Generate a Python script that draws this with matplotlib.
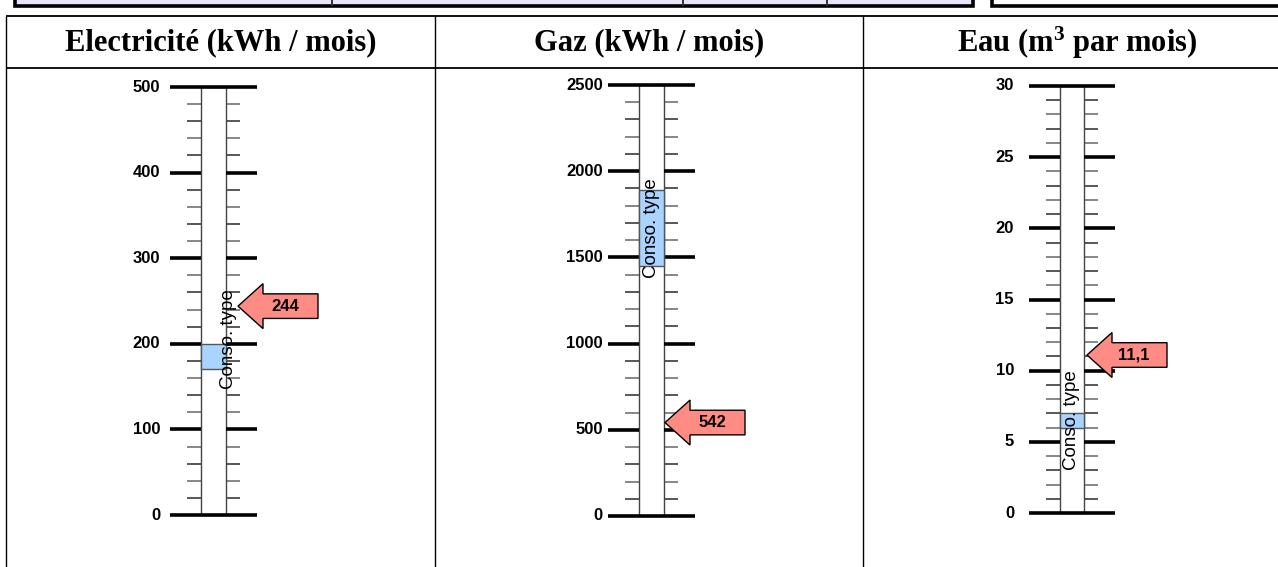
import matplotlib
matplotlib.use("Agg")
import matplotlib.pyplot as plt
from matplotlib.patches import Rectangle, Polygon

plt.rcParams["mathtext.fontset"] = "custom"
plt.rcParams["mathtext.rm"] = "Liberation Serif:bold"
plt.rcParams["mathtext.bf"] = "Liberation Serif:bold"
plt.rcParams["mathtext.it"] = "Liberation Serif:bold"

# ---------------- data ----------------
titles = ["Electricité (kWh / mois)", "Gaz (kWh / mois)", r"Eau (m$^{\mathrm{3}}$ par mois)"]
scale_max = [500, 2500, 30]
major_step = [100, 500, 5]
minor_step = [20, 100, 1]
conso_low = [170, 1450, 6]
conso_high = [200, 1890, 7]
actual_values = [244, 542, 11.1]
actual_labels = ["244", "542", "11,1"]
conso_text = "Conso. type"

# ---------------- layout (pixels) ----------------
W, H = 1278, 567
fig = plt.figure(figsize=(W / 100, H / 100), dpi=100)
bg = fig.add_axes([0, 0, 1, 1])
bg.set_xlim(0, W)
bg.set_ylim(H, 0)
bg.axis("off")

# top strip (cut-off table above)
bg.add_patch(Rectangle((15, -6), 958, 11.5, facecolor="#E6E6F8", edgecolor="black", lw=2.6))
for xd in [332, 683, 827]:
    bg.plot([xd, xd], [-6, 5], color="#333333", lw=1.4)
bg.add_patch(Rectangle((992, -6), 320, 11.5, facecolor="white", edgecolor="black", lw=2.6))

# table grid
for yl in [16, 68]:
    bg.plot([6, W], [yl, yl], color="black", lw=1.3, solid_capstyle="butt")
for xl in [6, 435, 863]:
    bg.plot([xl, xl], [16, H], color="black", lw=1.0, solid_capstyle="butt")

panel_left = [6, 435, 863]
panel_right = [435, 863, W]
header_cx = [221, 649, 1077]
for t, cx in zip(titles, header_cx):
    bg.text(cx, 43, t, ha="center", va="center", fontsize=22, fontweight="bold",
            family="Liberation Serif", color="black")

# gauge geometry per panel
y_zero = [515, 516, 513]
y_top = [87, 85, 86]
tube_l = [201, 639, 1060]
tube_r = [226, 664, 1084]
label_right = [160, 603, 1014]
arrow_shift = [12, 1, 3]
text_dx = [15, 0, 0]
text_center_val = [206, None, None]

for i in range(3):
    x0, x1 = panel_left[i], panel_right[i]
    pb = 1 - y_zero[i] / H
    pt = 1 - y_top[i] / H
    ax = fig.add_axes([x0 / W, pb, (x1 - x0) / W, pt - pb])
    ax.set_xlim(x0, x1)
    vmax = scale_max[i]
    ax.set_ylim(0, vmax)
    ax.axis("off")
    px_per_unit = (y_zero[i] - y_top[i]) / vmax
    tl, tr = tube_l[i], tube_r[i]

    # minor ticks
    nmin = int(round(vmax / minor_step[i]))
    for k in range(nmin + 1):
        v = k * minor_step[i]
        if abs(v / major_step[i] - round(v / major_step[i])) < 1e-9:
            continue
        col = "#2a2a2a" if k % 2 else "#666666"
        ax.plot([tl - 14, tl], [v, v], color=col, lw=1.1, clip_on=False, solid_capstyle="butt")
        ax.plot([tr, tr + 14], [v, v], color=col, lw=1.1, clip_on=False, solid_capstyle="butt")

    # tube
    ax.add_patch(Rectangle((tl, 0), tr - tl, vmax, facecolor="white", edgecolor="#444444",
                           lw=1.0, clip_on=False, zorder=2))

    # major ticks + labels
    nmaj = int(round(vmax / major_step[i]))
    for k in range(nmaj + 1):
        v = k * major_step[i]
        if k == 0 or k == nmaj:
            ax.plot([tl - 31, tr + 31], [v, v], color="black", lw=2.6, clip_on=False,
                    solid_capstyle="butt", zorder=4)
        else:
            ax.plot([tl - 31, tl], [v, v], color="black", lw=2.6, clip_on=False,
                    solid_capstyle="butt", zorder=3)
            ax.plot([tr, tr + 31], [v, v], color="black", lw=2.6, clip_on=False,
                    solid_capstyle="butt", zorder=3)
        ax.text(label_right[i], v, f"{v:g}", ha="right", va="center", fontsize=12,
                fontweight="bold", family="Liberation Sans", color="black")

    # typical consumption box
    ax.add_patch(Rectangle((tl, conso_low[i]), tr - tl, conso_high[i] - conso_low[i],
                           facecolor="#A8D4FF", edgecolor="#555555", lw=1.0,
                           clip_on=False, zorder=5))
    tc = text_center_val[i] if text_center_val[i] is not None else (conso_low[i] + conso_high[i]) / 2
    ax.text((tl + tr) / 2 + text_dx[i], tc, conso_text, rotation=90, ha="center", va="center",
            fontsize=13.5, family="Liberation Sans", color="black", zorder=6)

    # arrow
    tip = tr + arrow_shift[i]
    v = actual_values[i]
    hh = 22.5 / px_per_unit
    bh = 12.3 / px_per_unit
    pts = [(tip, v), (tip + 25, v + hh), (tip + 25, v + bh), (tip + 80, v + bh),
           (tip + 80, v - bh), (tip + 25, v - bh), (tip + 25, v - hh)]
    ax.add_patch(Polygon(pts, closed=True, facecolor="#FF8C84", edgecolor="black",
                         lw=1.0, clip_on=False, zorder=7))
    ax.text(tip + 47, v, actual_labels[i], ha="center", va="center", fontsize=12,
            fontweight="bold", family="Liberation Sans", color="black", zorder=8)

fig.savefig("out.png", dpi=100)
